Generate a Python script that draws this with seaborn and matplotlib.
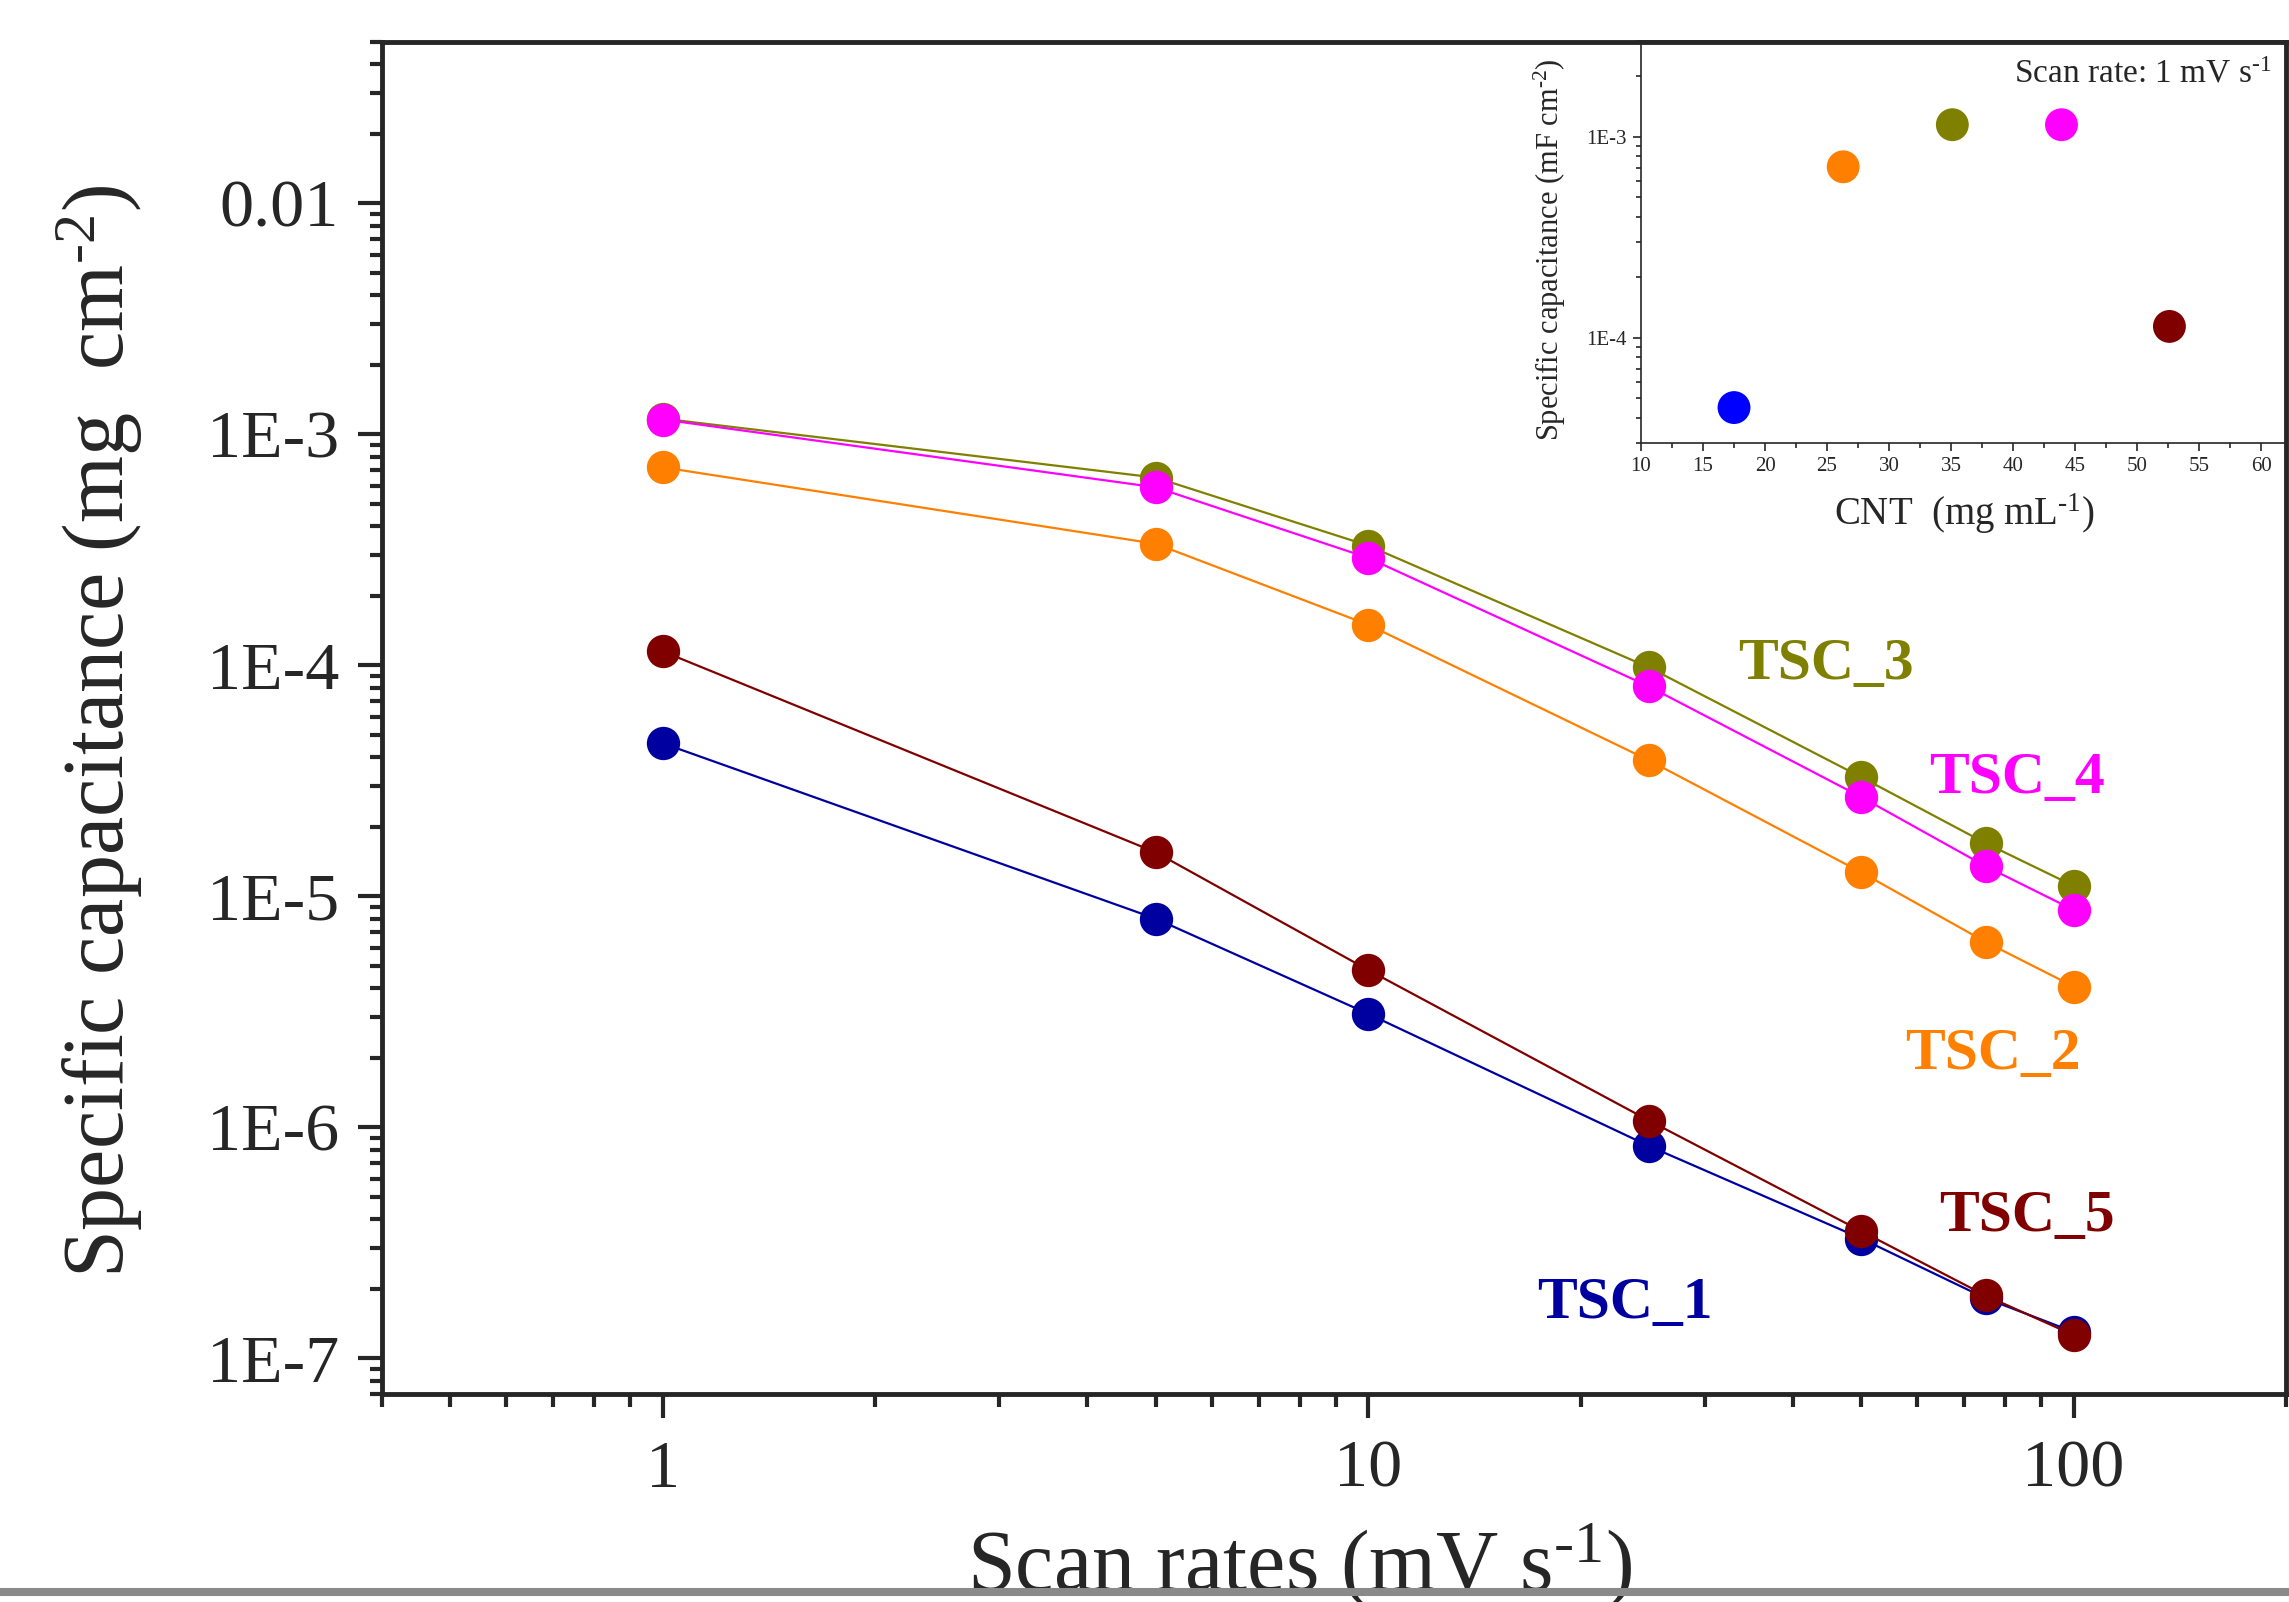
import math
import pandas as pd
import matplotlib
matplotlib.use('Agg')
import matplotlib.pyplot as plt
import matplotlib.ticker as mticker
from matplotlib.lines import Line2D
import seaborn as sns

# Scan rate (mV s-1) vs specific capacitance for each cell
scan_rates = [1, 5, 10, 25, 50, 75, 100]
tsc_1 = [4.6e-5, 8.0e-6, 3.1e-6, 8.3e-7, 3.3e-7, 1.82e-7, 1.3e-7]
tsc_2 = [7.2e-4, 3.36e-4, 1.5e-4, 3.88e-5, 1.27e-5, 6.35e-6, 4.07e-6]
tsc_3 = [1.17e-3, 6.5e-4, 3.3e-4, 9.8e-5, 3.28e-5, 1.7e-5, 1.11e-5]
tsc_4 = [1.16e-3, 5.9e-4, 2.92e-4, 8.1e-5, 2.69e-5, 1.35e-5, 8.73e-6]
tsc_5 = [1.15e-4, 1.55e-5, 4.8e-6, 1.07e-6, 3.55e-7, 1.87e-7, 1.26e-7]
samples = ['TSC_1', 'TSC_5', 'TSC_2', 'TSC_3', 'TSC_4']  # draw order

# Inset: capacitance at 1 mV s-1 vs CNT loading
cnt_conc = [17.5, 26.3, 35.1, 43.9, 52.6]
cap_1mv = [4.5e-5, 7.1e-4, 1.15e-3, 1.15e-3, 1.14e-4]
inset_samples = ['TSC_1', 'TSC_2', 'TSC_3', 'TSC_4', 'TSC_5']

main_colors = {'TSC_1': '#0000A0', 'TSC_2': '#FF8000', 'TSC_3': '#808000',
               'TSC_4': '#FF00FF', 'TSC_5': '#800000'}
inset_colors = {'TSC_1': '#0000FF', 'TSC_2': '#FF8000', 'TSC_3': '#808000',
                'TSC_4': '#FF00FF', 'TSC_5': '#800000'}

series = {'TSC_1': tsc_1, 'TSC_2': tsc_2, 'TSC_3': tsc_3, 'TSC_4': tsc_4, 'TSC_5': tsc_5}
df = pd.concat([pd.DataFrame({'rate': scan_rates, 'cap': series[s], 'sample': s}) for s in samples],
               ignore_index=True)
df_in = pd.DataFrame({'cnt': cnt_conc, 'cap': cap_1mv, 'sample': inset_samples})

sns.set_style('ticks')
plt.rcParams['font.family'] = ['Liberation Serif', 'DejaVu Serif']
plt.rcParams['mathtext.fontset'] = 'custom'
plt.rcParams['mathtext.rm'] = 'Liberation Serif'
plt.rcParams['mathtext.it'] = 'Liberation Serif:italic'
plt.rcParams['mathtext.bf'] = 'Liberation Serif:bold'

fig = plt.figure(figsize=(22.89, 16.02), dpi=100)
ax = fig.add_axes([0.1669, 0.1298, 0.8318, 0.8440])

sns.lineplot(data=df, x='rate', y='cap', hue='sample', hue_order=samples,
             palette=main_colors, estimator=None, marker='o', markersize=24,
             markeredgewidth=0, linewidth=1.6, legend=False, ax=ax)
ax.set_xscale('log')
ax.set_yscale('log')
ax.set_xlim(0.4, 200)
ax.set_ylim(7e-8, 0.05)

ax.xaxis.set_major_locator(mticker.FixedLocator([1, 10, 100]))
ax.xaxis.set_major_formatter(mticker.FuncFormatter(lambda v, p: '%g' % v))
ax.xaxis.set_minor_locator(mticker.LogLocator(base=10, subs=range(2, 10), numticks=20))
ax.xaxis.set_minor_formatter(mticker.NullFormatter())
ax.yaxis.set_major_locator(mticker.FixedLocator([1e-7, 1e-6, 1e-5, 1e-4, 1e-3, 1e-2]))
ax.yaxis.set_major_formatter(mticker.FuncFormatter(
    lambda v, p: '0.01' if v > 5e-3 else '1E-%d' % round(-math.log10(v))))
ax.yaxis.set_minor_locator(mticker.LogLocator(base=10, subs=range(2, 10), numticks=20))
ax.yaxis.set_minor_formatter(mticker.NullFormatter())

for sp in ax.spines.values():
    sp.set_linewidth(3.5)
    sp.set_visible(True)
ax.tick_params(which='major', direction='out', length=17, width=3, labelsize=49)
ax.tick_params(which='minor', direction='out', length=9, width=3)
ax.tick_params(axis='x', which='major', pad=16)
ax.tick_params(axis='y', which='major', pad=14)

ax.set_xlabel(r'Scan rates (mV s$^{\text{-1}}$)', fontsize=62)
ax.xaxis.set_label_coords(0.482, -0.094)
ax.set_ylabel(r'Specific capacitance (mg  cm$^{\text{-2}}$)', fontsize=62)
ax.yaxis.set_label_coords(-0.1245, 0.49)

# series labels
label_pos = {'TSC_3': (0.7584, 0.5288), 'TSC_4': (0.8587, 0.4445), 'TSC_2': (0.8461, 0.2404),
             'TSC_5': (0.864, 0.1206), 'TSC_1': (0.6528, 0.0562)}
for s, (lx, ly) in label_pos.items():
    ax.text(lx, ly, s, transform=ax.transAxes, color=main_colors[s], fontsize=43,
            fontweight='bold', ha='center', va='baseline')

# inset
axin = fig.add_axes([0.7169, 0.7235, 0.2818, 0.2509])
axin.set_facecolor('none')
sns.scatterplot(data=df_in, x='cnt', y='cap', hue='sample', palette=inset_colors,
                s=560, linewidth=0, legend=False, ax=axin)
axin.set_yscale('log')
axin.set_xlim(10, 62)
axin.set_ylim(3e-5, 3e-3)
axin.xaxis.set_major_locator(mticker.MultipleLocator(5))
axin.xaxis.set_minor_locator(mticker.AutoMinorLocator(2))
axin.yaxis.set_major_locator(mticker.FixedLocator([1e-4, 1e-3]))
axin.yaxis.set_major_formatter(mticker.FixedFormatter(['1E-4', '1E-3']))
axin.yaxis.set_minor_locator(mticker.LogLocator(base=10, subs=range(2, 10), numticks=20))
axin.yaxis.set_minor_formatter(mticker.NullFormatter())
for sp in axin.spines.values():
    sp.set_linewidth(1.2)
axin.tick_params(which='major', direction='out', length=6, width=1.2, labelsize=15, pad=4)
axin.tick_params(which='minor', direction='out', length=3.5, width=1.2)
axin.set_xlabel(r'CNT  (mg mL$^{\text{-1}}$)', fontsize=28)
axin.xaxis.set_label_coords(0.502, -0.12)
axin.set_ylabel(r'Specific capacitance (mF cm$^{\text{-2}}$)', fontsize=22)
axin.yaxis.set_label_coords(-0.1135, 0.48)
axin.text(0.978, 0.898, r'Scan rate: 1 mV s$^{\text{-1}}$', transform=axin.transAxes,
          fontsize=24, ha='right', va='baseline')

# grey band at the bottom edge of the screenshot
fig.add_artist(Line2D([0, 1], [0.0062, 0.0062], transform=fig.transFigure,
                      color='#8a8a8a', linewidth=5.8, zorder=20))

fig.savefig('out.png', dpi=100)
